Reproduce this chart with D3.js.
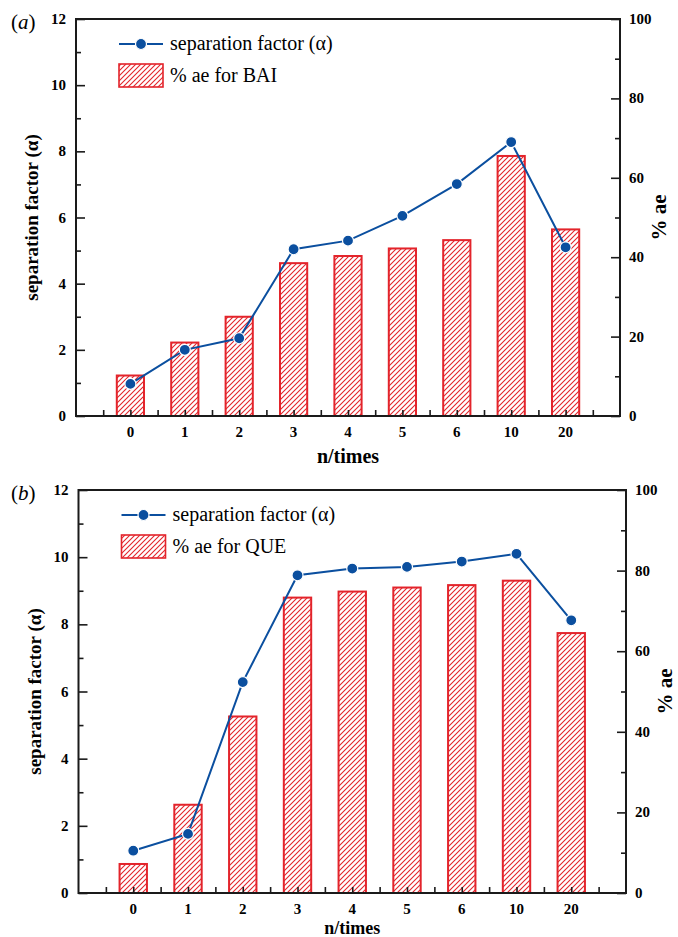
<!DOCTYPE html>
<html>
<head>
<meta charset="utf-8">
<script src="https://cdn.jsdelivr.net/npm/d3@7"></script>
<style>
  body { margin: 0; background: #fff; }
  svg text { font-family: "Liberation Serif", "Times New Roman", "DejaVu Serif", serif; }
</style>
</head>
<body>
<svg id="chart" width="678" height="937"></svg>
<script>
// categories (n/times)
var categories = ["0", "1", "2", "3", "4", "5", "6", "10", "20"];

// panel (a) BAI
var sepA = [0.97, 2.0, 2.35, 5.04, 5.30, 6.05, 7.01, 8.28, 5.10];
var aeA = [10.2, 18.5, 25.0, 38.5, 40.3, 42.2, 44.3, 65.5, 47.0];

// panel (b) QUE
var sepB = [1.26, 1.76, 6.28, 9.46, 9.66, 9.71, 9.87, 10.1, 8.12];
var aeB = [7.2, 21.9, 43.8, 73.3, 74.8, 75.8, 76.4, 77.5, 64.5];

var leftTicks = [0, 2, 4, 6, 8, 10, 12];
var rightTicks = [0, 20, 40, 60, 80, 100];

var red = "#e3242b", blue = "#0b4f9f", ink = "#1a1a1a";
var serif = "'Liberation Serif', 'Times New Roman', 'DejaVu Serif', serif";

var svg = d3.select("#chart").attr("font-family", serif);

// hatch pattern for the bars
var defs = svg.append("defs");
var pat = defs.append("pattern")
  .attr("id", "hatch")
  .attr("patternUnits", "userSpaceOnUse")
  .attr("width", 5).attr("height", 5);
pat.append("path")
  .attr("d", "M-1,1 l2,-2 M0,5 l5,-5 M4,6 l2,-2")
  .attr("stroke", red).attr("stroke-width", 1.1);

function drawPanel(box, sep, ae, tag, legendText, titleY, titleSize) {
  var g = svg.append("g");

  var x = d3.scaleLinear().domain([-1, 9]).range([box.left, box.right]),
      yL = d3.scaleLinear().domain([0, 12]).range([box.bottom, box.top]),
      yR = d3.scaleLinear().domain([0, 100]).range([box.bottom, box.top]);
  var bw = x(0.25) - x(-0.25);

  // bars
  g.selectAll(".bar")
      .data(ae)
    .enter().append("rect")
      .attr("class", "bar")
      .attr("x", function(d, i) { return x(i) - bw / 2; })
      .attr("y", function(d) { return yR(d); })
      .attr("width", bw)
      .attr("height", function(d) { return yR(0) - yR(d); })
      .attr("fill", "url(#hatch)")
      .attr("stroke", red)
      .attr("stroke-width", 2);

  // line + markers
  var line = d3.line()
    .x(function(d, i) { return x(i); })
    .y(function(d) { return yL(d); });
  g.append("path")
    .datum(sep)
    .attr("d", line)
    .attr("fill", "none")
    .attr("stroke", blue)
    .attr("stroke-width", 2);
  g.selectAll(".dot")
      .data(sep)
    .enter().append("circle")
      .attr("class", "dot")
      .attr("cx", function(d, i) { return x(i); })
      .attr("cy", function(d) { return yL(d); })
      .attr("r", 5.5)
      .attr("fill", blue)
      .attr("stroke", "#fff")
      .attr("stroke-width", 1.2);

  // axes (ticks inward)
  var leftAxis = g.append("g")
    .attr("transform", "translate(" + box.left + ",0)")
    .call(d3.axisRight(yL).tickValues(d3.range(0, 13, 1)).tickSize(5).tickFormat(""));
  leftAxis.selectAll(".tick line")
    .attr("x2", function(d) { return d % 2 === 0 ? 9 : 5; });

  var rightAxis = g.append("g")
    .attr("transform", "translate(" + box.right + ",0)")
    .call(d3.axisLeft(yR).tickValues(d3.range(0, 101, 10)).tickSize(5).tickFormat(""));
  rightAxis.selectAll(".tick line")
    .attr("x2", function(d) { return d % 20 === 0 ? -9 : -5; });

  g.append("g")
    .attr("transform", "translate(0," + box.bottom + ")")
    .call(d3.axisTop(x).tickValues(d3.range(-0.5, 9, 0.5)).tickSize(6).tickFormat(""));

  g.selectAll(".domain").remove();
  g.selectAll(".tick line").attr("stroke", ink).attr("stroke-width", 1.6);

  // frame
  g.append("path")
    .attr("d", "M" + box.left + "," + box.top + "H" + box.right + "V" + box.bottom +
      "H" + box.left + "Z")
    .attr("fill", "none").attr("stroke", ink).attr("stroke-width", 2);

  // tick labels
  g.selectAll(".ll")
      .data(leftTicks)
    .enter().append("text")
      .attr("x", box.left - 10)
      .attr("y", function(d) { return yL(d) + 5; })
      .attr("text-anchor", "end")
      .attr("font-size", 15).attr("font-weight", "bold")
      .text(function(d) { return d; });
  g.selectAll(".rl")
      .data(rightTicks)
    .enter().append("text")
      .attr("x", box.right + 9)
      .attr("y", function(d) { return yR(d) + 5; })
      .attr("font-size", 15).attr("font-weight", "bold")
      .text(function(d) { return d; });
  g.selectAll(".xl")
      .data(categories)
    .enter().append("text")
      .attr("x", function(d, i) { return x(i); })
      .attr("y", box.bottom + 21)
      .attr("text-anchor", "middle")
      .attr("font-size", 15).attr("font-weight", "bold")
      .text(function(d) { return d; });

  // axis titles
  g.append("text")
    .attr("transform", "translate(" + (box.left - 38) + "," + ((box.top + box.bottom) / 2) + ") rotate(-90)")
    .attr("text-anchor", "middle")
    .attr("font-size", 19).attr("font-weight", "bold")
    .text("separation factor (\u03b1)");
  g.append("text")
    .attr("transform", "translate(" + (box.right + 46) + "," + ((box.top + box.bottom) / 2) + ") rotate(-90)")
    .attr("text-anchor", "middle")
    .attr("font-size", 21).attr("font-weight", "bold")
    .text("% ae");
  g.append("text")
    .attr("x", (box.left + box.right) / 2)
    .attr("y", titleY)
    .attr("text-anchor", "middle")
    .attr("font-size", titleSize).attr("font-weight", "bold")
    .text("n/times");

  // panel tag
  var tg = g.append("text")
    .attr("x", 11).attr("y", box.top + 10)
    .attr("font-size", 21);
  tg.append("tspan").text("(");
  tg.append("tspan").attr("font-style", "italic").text(tag);
  tg.append("tspan").text(")");

  // legend
  var lx = box.left + 43, ly = box.top + 25;
  g.append("line")
    .attr("x1", lx).attr("x2", lx + 44)
    .attr("y1", ly).attr("y2", ly)
    .attr("stroke", blue).attr("stroke-width", 2);
  g.append("circle")
    .attr("cx", lx + 22).attr("cy", ly).attr("r", 5.5)
    .attr("fill", blue).attr("stroke", "#fff").attr("stroke-width", 1.2);
  g.append("text")
    .attr("x", lx + 51).attr("y", ly + 6)
    .attr("font-size", 20)
    .text("separation factor (\u03b1)");
  g.append("rect")
    .attr("x", lx).attr("y", ly + 20)
    .attr("width", 44).attr("height", 23)
    .attr("fill", "url(#hatch)")
    .attr("stroke", red).attr("stroke-width", 1.6);
  g.append("text")
    .attr("x", lx + 51).attr("y", ly + 38)
    .attr("font-size", 20)
    .text(legendText);
}

drawPanel({left: 76, right: 620, top: 19, bottom: 416}, sepA, aeA, "a", "% ae for BAI", 463, 20);
drawPanel({left: 78.5, right: 626, top: 490, bottom: 893}, sepB, aeB, "b", "% ae for QUE", 934, 18);
</script>
</body>
</html>
